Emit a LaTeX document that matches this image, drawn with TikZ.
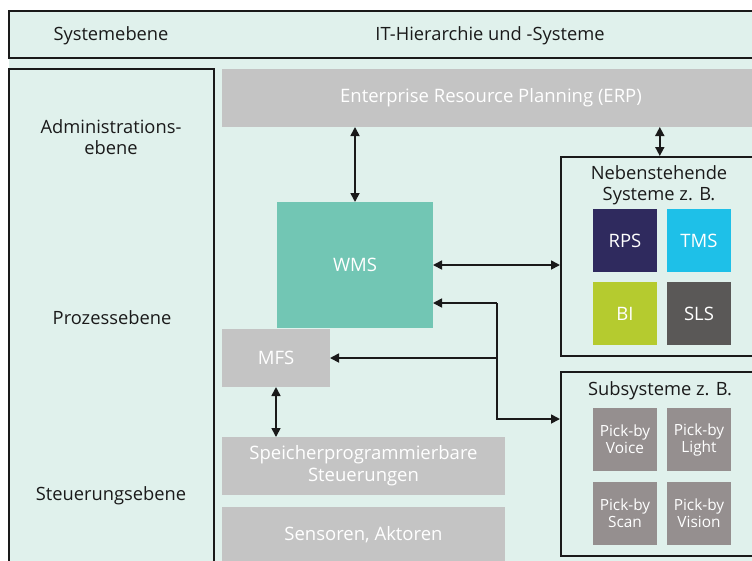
\documentclass[tikz,border=0pt]{standalone}
\usepackage{fontspec}
\setmainfont{Open Sans}
\usetikzlibrary{arrows.meta}
\definecolor{mint}{HTML}{E0F1EC}
\definecolor{boxgray}{HTML}{C4C4C4}
\definecolor{teal}{HTML}{72C6B4}
\definecolor{rps}{HTML}{2F2A5E}
\definecolor{tms}{HTML}{1EC0E8}
\definecolor{bi}{HTML}{B5CB2F}
\definecolor{sls}{HTML}{5A5857}
\definecolor{pick}{HTML}{958F8F}
\definecolor{ink}{HTML}{1A1A1A}
\tikzset{
  frame/.style={draw=ink, line width=1.6pt},
  lbl/.style={text=ink, font=\fontsize{18.3}{21}\selectfont, align=center, inner sep=0pt},
  block/.style={anchor=north west, inner sep=0pt, outer sep=0pt, text=white, align=center,
     font=\fontsize{18.5}{22}\selectfont},
  graybox/.style={block, fill=boxgray},
  sq/.style={block, minimum width=64pt, minimum height=63pt},
  pk/.style={sq, fill=pick, font=\fontsize{15.4}{17}\selectfont},
  conn/.style={draw=ink, line width=1.7pt},
  tip/.style={-{Triangle[length=9pt,width=9pt]}},
  dbl/.style={{Triangle[length=9pt,width=9pt]}-{Triangle[length=9pt,width=9pt]}},
}
\begin{document}
\begin{tikzpicture}[x=1pt,y=-1pt]
\useasboundingbox (0,0) rectangle (752,560);
\clip (0,0) rectangle (752,560);
\fill[white] (0,0) rectangle (752,560);
\fill[mint] (9,11) rectangle (780,590);
\draw[frame] (9,11) rectangle (780,58);
\draw[frame] (9,69) rectangle (214,590);

\node[lbl] (hsys) at (111,36) {Systemebene};
\node[lbl] (hit) at (490,36) {IT-Hierarchie und -Systeme};
\node[lbl] (ladm) at (111,137) {Administrations-\\ebene};
\node[lbl] (lproz) at (112,318) {Prozessebene};
\node[lbl] (lsteu) at (111,496) {Steuerungsebene};

\node[graybox, minimum width=538pt, minimum height=58pt] (erp) at (222,69) {Enterprise Resource Planning (ERP)};
\node[block, fill=teal, minimum width=156pt, minimum height=126pt] (wms) at (277,202) {WMS};
\node[graybox, minimum width=108pt, minimum height=58pt] (mfs) at (222,329) {MFS};
\node[graybox, minimum width=283pt, minimum height=58pt] (sps) at (222,437) {Speicherprogrammierbare\\Steuerungen};
\node[graybox, minimum width=283pt, minimum height=56pt] (sens) at (222,507) {Sensoren, Aktoren};

\node[anchor=north west, draw=ink, line width=1.6pt, minimum width=198pt, minimum height=199pt, inner sep=0pt] (neben) at (560,156) {};
\node[lbl] (nebt) at (659,185) {Nebenstehende\\Systeme z. B.};
\node[sq, fill=rps] (rps) at (593,209) {RPS};
\node[sq, fill=tms] (tms) at (667,209) {TMS};
\node[sq, fill=bi] (bi) at (593,282) {BI};
\node[sq, fill=sls] (sls) at (667,282) {SLS};

\node[anchor=north west, draw=ink, line width=1.6pt, minimum width=198pt, minimum height=184pt, inner sep=0pt] (sub) at (560,371) {};
\node[lbl] (subt) at (660,391) {Subsysteme z. B.};
\node[pk] (pv) at (593,408) {Pick-by\\Voice};
\node[pk] (pl) at (667,408) {Pick-by\\Light};
\node[pk] (ps) at (593,482) {Pick-by\\Scan};
\node[pk] (pvi) at (667,482) {Pick-by\\Vision};

\coordinate (j1) at (497,303);
\coordinate (j2) at (497,419);

\draw[conn, dbl] (erp.south -| wms.north) -- (wms.north);
\draw[conn, dbl] (erp.south -| neben.north) -- (neben.north);
\draw[conn, dbl] (wms.east) -- (wms.east -| neben.west);
\draw[conn, tip] (j1) -- (j1 -| wms.east);
\draw[conn, tip] (j1) -- (j2) -- (j2 -| sub.west);
\draw[conn, tip] (mfs.east -| j1) -- (mfs.east);
\draw[conn, dbl] (mfs.south) -- (mfs.south |- sps.north);
\end{tikzpicture}
\end{document}
